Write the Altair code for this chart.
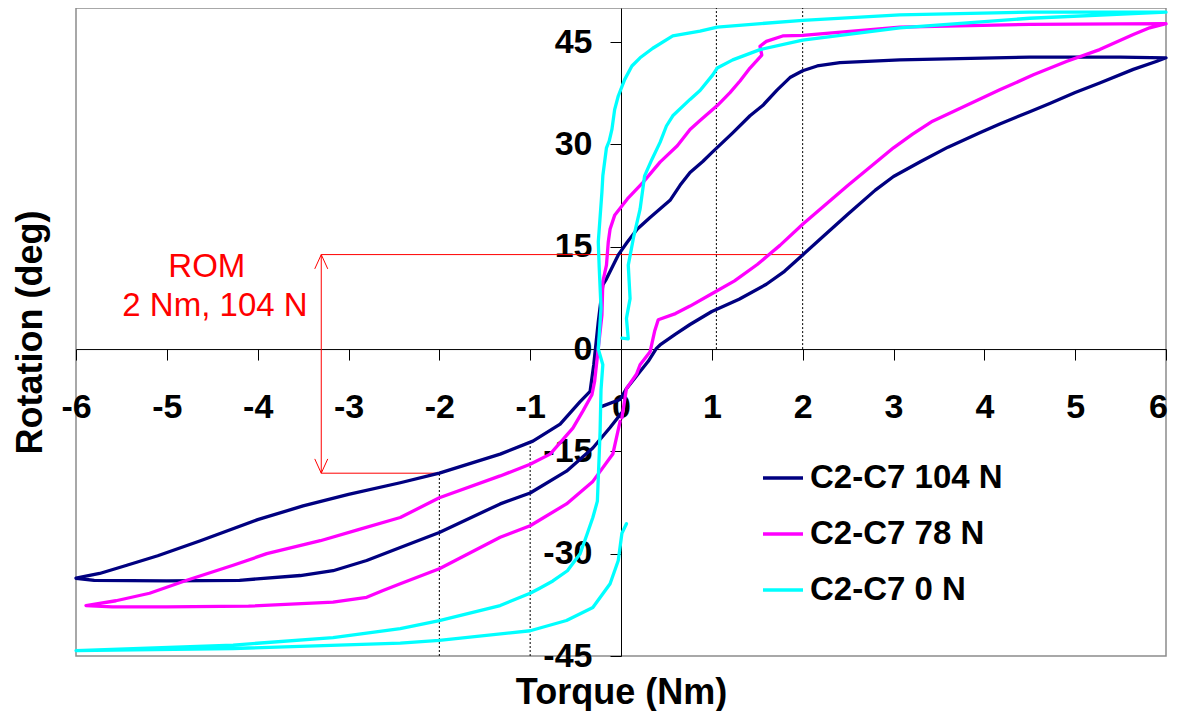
import altair as alt
import pandas as pd

FONT = "Liberation Sans"

# ---------------- data ----------------
series_names = ["C2-C7 104 N", "C2-C7 78 N", "C2-C7 0 N"]
series_colors = ["#000080", "#FF00FF", "#00FFFF"]

n104_x = [-0.21, -0.01, 0.06, 0.21, 0.30, 0.39, 0.43, 0.60, 0.76, 1.00, 1.30, 1.60, 1.80, 2.00, 2.20, 2.50, 2.80,
          3.00, 3.30, 3.60, 3.95, 4.17, 4.50, 4.72, 5.00, 5.27, 5.64, 5.90, 6.00,
          5.50, 4.50, 3.07, 2.41, 2.16, 2.00, 1.86, 1.72, 1.56, 1.42, 1.23, 1.00, 0.90, 0.76, 0.65, 0.54, 0.32,
          0.18, 0.07, -0.03, -0.16, -0.20, -0.25, -0.30, -0.34, -0.45, -0.67, -0.97, -1.33, -2.00, -2.43, -3.00,
          -3.50, -4.00, -4.63, -5.10, -5.44, -5.74, -6.00,
          -5.80, -5.00, -4.20, -3.53, -3.17, -2.80, -2.43, -2.00, -1.33, -1.00, -0.60, -0.31, -0.12, 0.01]
n104_y = [-8.4, -7.4, -5.8, -3.3, -1.8, 0.1, 0.6, 2.2, 3.6, 5.5, 7.3, 9.5, 11.4, 13.8, 16.2, 19.8, 23.3,
          25.3, 27.5, 29.6, 31.7, 33.0, 34.8, 36.0, 37.6, 39.0, 41.0, 42.2, 42.7,
          42.8, 42.8, 42.4, 42.0, 41.5, 40.8, 39.8, 38.0, 35.7, 34.2, 31.7, 28.8, 27.5, 25.9, 24.0, 21.8, 19.3,
          17.6, 15.7, 13.8, 10.3, 9.4, 4.0, -2.3, -6.2, -7.7, -11.0, -13.5, -15.4, -18.2, -19.6, -21.3,
          -23.0, -25.0, -28.1, -30.3, -31.7, -32.9, -33.6,
          -33.9, -34.0, -33.9, -33.2, -32.5, -31.0, -29.1, -26.9, -22.7, -21.1, -17.9, -14.5, -11.5, -9.3]

n78_x = [0.01, 0.06, 0.17, 0.21, 0.32, 0.37, 0.41, 0.60, 0.76, 1.00, 1.25, 1.50, 1.75, 2.00, 2.50, 2.80, 3.00,
         3.21, 3.43, 3.80, 4.17, 4.54, 4.91, 5.27, 5.64, 5.82, 6.00,
         4.50, 3.07, 2.00, 1.78, 1.60, 1.53, 1.55, 1.49, 1.42, 1.31, 1.20, 1.06, 0.87, 0.76, 0.62, 0.43, 0.24,
         0.07, -0.07, -0.12, -0.14, -0.16, -0.20, -0.21, -0.25, -0.29, -0.32, -0.42, -0.53, -0.78, -1.00,
         -1.33, -2.00, -2.43, -2.90, -3.31, -3.90, -4.27, -4.78, -5.19, -5.56, -5.89,
         -5.60, -5.00, -4.10, -3.17, -2.80, -2.62, -2.43, -2.00, -1.33, -1.00, -0.60, -0.31, -0.09, -0.01]
n78_y = [-10.1, -5.8, -3.7, -2.3, -0.4, 2.6, 4.3, 5.2, 6.3, 8.1, 10.0, 12.4, 15.2, 18.3, 24.0, 27.3, 29.5,
         31.5, 33.4, 35.7, 38.0, 40.2, 42.2, 43.9, 46.1, 47.1, 47.7,
         47.6, 47.2, 46.0, 45.9, 45.1, 44.4, 43.1, 42.2, 41.2, 39.3, 37.6, 35.7, 33.5, 32.2, 29.8, 27.4, 24.4,
         22.0, 19.6, 17.6, 15.7, 12.3, 9.9, 5.0, 0.1, -4.7, -6.7, -9.1, -11.6, -15.4, -16.9,
         -18.6, -21.8, -24.7, -26.5, -28.1, -30.0, -31.7, -33.9, -35.8, -36.9, -37.6,
         -37.8, -37.8, -37.7, -37.1, -36.4, -35.4, -34.4, -32.2, -27.6, -25.9, -22.7, -19.4, -15.4, -10.6]

n0_x = [0.01, 0.08, 0.06, 0.10, 0.08, 0.14, 0.21, 0.26, 0.34, 0.43, 0.50, 0.57, 0.76, 0.87, 1.01, 1.06, 1.23,
        1.53, 2.00, 3.07, 4.50, 6.00,
        4.50, 3.07, 2.00, 1.06, 0.87, 0.57, 0.35, 0.21, 0.12, 0.04, -0.03, -0.07, -0.10, -0.13, -0.16, -0.20,
        -0.21, -0.25, -0.24, -0.22, -0.25, -0.20, -0.22, -0.23, -0.24, -0.26, -0.31, -0.37, -0.45, -0.59,
        -0.75, -0.90, -1.00, -1.33, -2.00, -2.43, -3.17, -4.27, -6.00,
        -4.27, -2.43, -2.00, -1.00, -0.60, -0.31, -0.12, -0.03, 0.01, 0.06]
n0_y = [1.6, 1.5, 4.5, 7.4, 12.3, 16.5, 20.5, 25.4, 27.8, 30.3, 32.7, 34.2, 36.6, 37.9, 40.2, 41.2, 42.4,
        43.9, 45.3, 47.1, 48.5, 49.4,
        49.4, 49.0, 48.2, 47.2, 46.6, 45.9, 44.1, 42.7, 41.5, 39.5, 37.1, 35.1, 32.2, 30.5, 29.5, 25.4,
        23.0, 15.7, 12.0, 6.0, 0.0, -2.3, -6.0, -12.0, -15.5, -22.3, -24.7, -27.0, -30.0, -32.5,
        -34.0, -35.1, -35.8, -37.6, -39.8, -41.0, -42.3, -43.4, -44.2,
        -43.9, -43.1, -42.7, -41.3, -39.8, -37.9, -34.4, -31.0, -27.0, -25.6]

# dotted guide lines
guide_x = [1.05, 2.0, -2.0, -1.0]
guide_y = [0.0, 0.0, -45.0, -45.0]
guide_y2 = [50.0, 50.0, -18.2, -13.5]

# ROM annotation (red)
rom_hx = [-3.3, -3.3]
rom_hx2 = [2.0, -2.0]
rom_hy = [13.85, -18.2]
rom_vx = [-3.3]
rom_vy = [-18.2]
rom_vy2 = [13.85]
rom_text = ["ROM", "2 Nm, 104 N"]
rom_tx = [-4.56, -4.47]
rom_ty = [10.6, 4.8]

x_ticks = list(range(-6, 7))
y_ticks = [-45, -30, -15, 0, 15, 30, 45]
X_DOMAIN = [-6, 6]
Y_DOMAIN = [-45, 50]

# ---------------- frames ----------------
rows = []
for name, xs, ys in zip(series_names, [n104_x, n78_x, n0_x], [n104_y, n78_y, n0_y]):
    for i, (a, b) in enumerate(zip(xs, ys)):
        rows.append({"series": name, "x": a, "y": b, "i": i})
lines_df = pd.DataFrame(rows)
guide_df = pd.DataFrame({"x": guide_x, "y": guide_y, "y2": guide_y2})
hred_df = pd.DataFrame({"x": rom_hx, "x2": rom_hx2, "y": rom_hy})
vred_df = pd.DataFrame({"x": rom_vx, "y": rom_vy, "y2": rom_vy2})
arrow_top_df = pd.DataFrame({"x": rom_vx, "y": rom_vy2})
arrow_bot_df = pd.DataFrame({"x": rom_vx, "y": rom_vy})
text_df = pd.DataFrame({"x": rom_tx, "y": rom_ty, "t": rom_text})

# ---------------- layout ----------------
W, H = 1090, 648
x_axis_off = -(H * (0 - Y_DOMAIN[0]) / (Y_DOMAIN[1] - Y_DOMAIN[0]))
y_axis_off = -(W * (0 - X_DOMAIN[0]) / (X_DOMAIN[1] - X_DOMAIN[0]))

x_axis = alt.Axis(values=x_ticks, offset=x_axis_off, tickSize=11, tickColor="black", tickWidth=1,
                  domainColor="black", domainWidth=1, grid=False,
                  labelFont=FONT, labelFontSize=34, labelFontWeight="bold", labelColor="black",
                  labelPadding=30, labelFlush=False, labelOverlap=False, labelExpr="datum.value + ''",
                  labelOffset={"condition": {"test": "datum.value == 6", "value": -8}, "value": 0},
                  title="Torque (Nm)", titleFont=FONT, titleFontSize=36, titleFontWeight="bold",
                  titleColor="black", titleX=W / 2, titleY=354, titleBaseline="alphabetic",
                  titleAlign="center")
y_axis = alt.Axis(values=y_ticks, offset=y_axis_off, tickSize=11, tickColor="black", tickWidth=1,
                  domainColor="black", domainWidth=1, grid=False,
                  labelFont=FONT, labelFontSize=34, labelFontWeight="bold", labelColor="black",
                  labelPadding=18, labelFlush=False, labelOverlap=False, labelExpr="datum.value + ''",
                  title="Rotation (deg)", titleFont=FONT, titleFontSize=36, titleFontWeight="bold",
                  titleColor="black", titleX=-580, titleY=H / 2, titleBaseline="alphabetic",
                  titleAlign="center", titleAngle=270)

xs = alt.Scale(domain=X_DOMAIN, nice=False, zero=False)
ys = alt.Scale(domain=Y_DOMAIN, nice=False, zero=False)
X = alt.X("x:Q", scale=xs, axis=x_axis)
Y = alt.Y("y:Q", scale=ys, axis=y_axis)

color = alt.Color("series:N",
                  scale=alt.Scale(domain=series_names, range=series_colors),
                  legend=alt.Legend(orient="none", legendX=685, legendY=448, title=None,
                                    symbolType="stroke", symbolSize=1600, symbolStrokeWidth=3.5,
                                    labelFont=FONT, labelFontSize=33, labelFontWeight="bold",
                                    labelColor="black", labelOffset=5, rowPadding=17, padding=0,
                                    labelLimit=400))

guides = alt.Chart(guide_df).mark_rule(color="black", strokeWidth=1, strokeDash=[2, 2]).encode(
    x=X, y=Y, y2="y2:Q")
hred = alt.Chart(hred_df).mark_rule(color="#FF0000", strokeWidth=1).encode(x=X, x2="x2:Q", y=Y)
vred = alt.Chart(vred_df).mark_rule(color="#FF0000", strokeWidth=1).encode(x=X, y=Y, y2="y2:Q")
arrow_top = alt.Chart(arrow_top_df).mark_point(shape="M-1,2.2L0,0L1,2.2", filled=False,
                                               color="#FF0000", strokeWidth=1, size=169,
                                               opacity=1).encode(x=X, y=Y)
arrow_bot = alt.Chart(arrow_bot_df).mark_point(shape="M-1,-2.2L0,0L1,-2.2", filled=False,
                                               color="#FF0000", strokeWidth=1, size=169,
                                               opacity=1).encode(x=X, y=Y)

line_layers = []
for name in series_names:
    line_layers.append(
        alt.Chart(lines_df).transform_filter(alt.datum.series == name)
        .mark_line(strokeWidth=3.3, strokeJoin="round", strokeCap="round")
        .encode(x=X, y=Y, color=color, order=alt.Order("i:Q"))
    )

texts = alt.Chart(text_df).mark_text(font=FONT, fontSize=33, color="#FF0000", align="center",
                                     baseline="alphabetic").encode(x=X, y=Y, text="t:N")

chart = alt.layer(guides, hred, vred, arrow_top, arrow_bot, *line_layers, texts).properties(
    width=W, height=H, autosize="none",
    padding={"left": 68, "top": 0, "right": 2, "bottom": 55},
    background="white",
).configure_view(stroke="#8c8c8c", strokeWidth=1.5)

chart.save("out.html", embed_options={"renderer": "svg", "actions": False})
